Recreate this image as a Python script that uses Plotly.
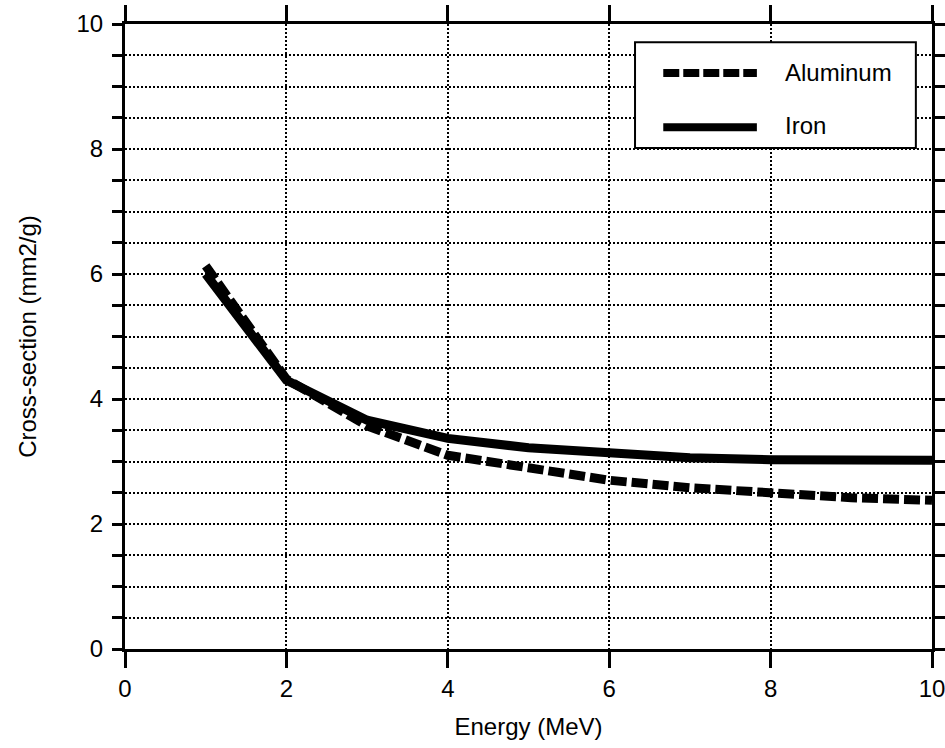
import plotly.graph_objects as go

energy = [1, 2, 3, 4, 5, 6, 7, 8, 9, 10]
aluminum = [6.13, 4.32, 3.57, 3.10, 2.90, 2.70, 2.58, 2.49, 2.42, 2.38]
iron = [6.00, 4.30, 3.66, 3.37, 3.22, 3.13, 3.06, 3.03, 3.02, 3.02]
series_names = ["Aluminum", "Iron"]
x_ticks = [0, 2, 4, 6, 8, 10]
y_ticks = [0, 2, 4, 6, 8, 10]

FONT = "Liberation Sans, Arial, Helvetica, sans-serif"

fig = go.Figure()
fig.add_trace(go.Scatter(x=energy, y=aluminum, mode="lines", name=series_names[0],
                         line=dict(color="black", width=9, dash="16px,5px"), showlegend=False))
fig.add_trace(go.Scatter(x=energy, y=iron, mode="lines", name=series_names[1],
                         line=dict(color="black", width=9), showlegend=False))

fig.update_layout(
    width=945, height=748,
    margin=dict(l=125, r=13, t=24, b=99, autoexpand=False),
    paper_bgcolor="white", plot_bgcolor="white",
    font=dict(family=FONT, size=24, color="black"),
    showlegend=False,
)

fig.update_xaxes(
    range=[0, 10], tickvals=x_ticks, ticktext=[str(v) for v in x_ticks],
    automargin=False, ticklabeloverflow="allow",
    showline=True, linecolor="black", linewidth=3, mirror="allticks",
    ticks="outside", ticklen=16, tickwidth=3, tickcolor="black",
    ticklabelstandoff=0, tickfont=dict(size=24),
    showgrid=True, gridcolor="black", gridwidth=2, griddash="2px,2px",
    zeroline=False,
    title=dict(text="Energy (MeV)", font=dict(size=24), standoff=18),
)
fig.update_yaxes(
    range=[0, 10], tickvals=y_ticks, ticktext=[str(v) for v in y_ticks],
    automargin=False, ticklabeloverflow="allow",
    showline=True, linecolor="black", linewidth=3, mirror="allticks",
    ticks="", ticklabelstandoff=14, tickfont=dict(size=24),
    showgrid=True, gridcolor="black", gridwidth=2, griddash="2px,2px",
    minor=dict(dtick=0.5, ticks="outside", ticklen=10, tickwidth=3, tickcolor="black",
               showgrid=True, gridcolor="black", gridwidth=2, griddash="2px,2px"),
    zeroline=False,
    title=dict(text="Cross-section (mm2/g)", font=dict(size=24), standoff=34),
)

# legend box drawn in paper coordinates
lx0, lx1, ly0, ly1 = 0.632, 0.980, 0.8016, 0.971
fig.add_shape(type="rect", xref="paper", yref="paper", x0=lx0, x1=lx1, y0=ly0, y1=ly1,
              line=dict(color="black", width=2), fillcolor="white", layer="above")
fig.add_shape(type="line", xref="paper", yref="paper", x0=0.667, x1=0.783, y0=0.9216, y1=0.9216,
              line=dict(color="black", width=8, dash="16px,4px"))
fig.add_shape(type="line", xref="paper", yref="paper", x0=0.667, x1=0.783, y0=0.835, y1=0.835,
              line=dict(color="black", width=8))
fig.add_annotation(xref="paper", yref="paper", x=0.815, y=0.923, xanchor="left", yanchor="middle",
                   text=series_names[0], showarrow=False, font=dict(size=24))
fig.add_annotation(xref="paper", yref="paper", x=0.815, y=0.838, xanchor="left", yanchor="middle",
                   text=series_names[1], showarrow=False, font=dict(size=24))

# remove the default 8px page margin so the figure fills the window exactly
fig.write_html("out.html",
               config={"displayModeBar": False},
               post_script="document.body.style.margin='0';document.body.style.overflow='hidden';")
